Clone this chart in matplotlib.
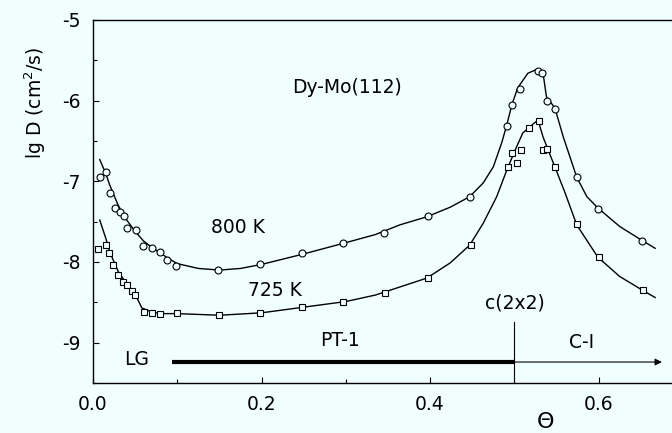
import numpy as np
import matplotlib.pyplot as plt
from matplotlib.ticker import MultipleLocator

plt.rcParams['font.family'] = ['DejaVu Sans']

# measured points, 800 K (circles)
theta_800 = [0.008, 0.015, 0.020, 0.026, 0.032, 0.037, 0.040, 0.051, 0.059, 0.070,
             0.079, 0.088, 0.098, 0.148, 0.198, 0.248, 0.297, 0.345, 0.397, 0.447,
             0.491, 0.497, 0.507, 0.528, 0.533, 0.539, 0.548, 0.574, 0.599, 0.651]
lgD_800 = [-6.95, -6.88, -7.14, -7.33, -7.38, -7.43, -7.58, -7.60, -7.80, -7.83,
           -7.87, -7.97, -8.05, -8.10, -8.02, -7.89, -7.76, -7.64, -7.43, -7.19,
           -6.31, -6.05, -5.86, -5.63, -5.66, -6.00, -6.10, -6.95, -7.34, -7.74]

# measured points, 725 K (squares)
theta_725 = [0.006, 0.015, 0.019, 0.024, 0.030, 0.036, 0.040, 0.046, 0.050, 0.060,
             0.070, 0.079, 0.100, 0.149, 0.198, 0.248, 0.297, 0.346, 0.397, 0.448,
             0.492, 0.503, 0.497, 0.508, 0.517, 0.529, 0.534, 0.539, 0.548, 0.574,
             0.600, 0.652]
lgD_725 = [-7.84, -7.79, -7.89, -8.04, -8.16, -8.25, -8.28, -8.36, -8.41, -8.62,
           -8.63, -8.64, -8.63, -8.66, -8.63, -8.56, -8.49, -8.38, -8.20, -7.79,
           -6.82, -6.77, -6.65, -6.61, -6.34, -6.25, -6.61, -6.60, -6.82, -7.53,
           -7.94, -8.35]

# drawn guide curves
cx_800 = [0.008, 0.015, 0.02, 0.03, 0.04, 0.05, 0.06, 0.07, 0.08, 0.09, 0.1, 0.125,
          0.15, 0.175, 0.2, 0.25, 0.3, 0.335, 0.364, 0.396, 0.424, 0.447, 0.463,
          0.475, 0.485, 0.491, 0.497, 0.504, 0.516, 0.527, 0.534, 0.538, 0.548,
          0.558, 0.574, 0.586, 0.599, 0.625, 0.651, 0.667]
cy_800 = [-6.73, -6.9, -7.05, -7.3, -7.48, -7.62, -7.74, -7.82, -7.89, -7.96, -8.02,
          -8.08, -8.1, -8.08, -8.03, -7.9, -7.76, -7.66, -7.54, -7.44, -7.32, -7.19,
          -7.02, -6.82, -6.52, -6.30, -6.05, -5.84, -5.66, -5.61, -5.66, -5.95,
          -6.09, -6.45, -6.95, -7.19, -7.33, -7.56, -7.73, -7.83]

cx_725 = [0.008, 0.015, 0.02, 0.03, 0.04, 0.05, 0.058, 0.07, 0.08, 0.1, 0.15, 0.2,
          0.25, 0.3, 0.335, 0.364, 0.396, 0.424, 0.447, 0.463, 0.479, 0.491, 0.501,
          0.51, 0.521, 0.528, 0.534, 0.54, 0.548, 0.56, 0.574, 0.599, 0.625, 0.652,
          0.667]
cy_725 = [-7.48, -7.7, -7.88, -8.12, -8.27, -8.4, -8.57, -8.62, -8.64, -8.64, -8.66,
          -8.63, -8.56, -8.49, -8.41, -8.31, -8.20, -8.01, -7.79, -7.52, -7.19,
          -6.86, -6.61, -6.40, -6.30, -6.24, -6.45, -6.61, -6.82, -7.14, -7.54,
          -7.94, -8.18, -8.35, -8.44]

bg = '#f0fefe'

fig = plt.figure(figsize=(6.72, 4.33), dpi=100, facecolor=bg)
ax = fig.add_axes([93 / 672, 1 - 383 / 433, 1 - 93 / 672, (383 - 20) / 433])
ax.set_facecolor(bg)

ax.plot(cx_800, cy_800, color='black', lw=1.0, zorder=2)
ax.plot(cx_725, cy_725, color='black', lw=1.0, zorder=2)
ax.plot(theta_800, lgD_800, 'o', ms=5, mfc=bg, mec='black', mew=0.8, zorder=3)
ax.plot(theta_725, lgD_725, 's', ms=5, mfc=bg, mec='black', mew=0.8, zorder=3)

# phase bar and arrow
ax.plot([0.094, 0.5], [-9.24, -9.24], color='black', lw=3, solid_capstyle='butt')
ax.annotate('', xy=(0.675, -9.24), xytext=(0.5, -9.24),
            arrowprops=dict(arrowstyle='-|>', color='black', lw=0.8,
                            mutation_scale=10, shrinkA=0, shrinkB=0))
ax.plot([0.5, 0.5], [-8.75, -9.5], color='black', lw=0.8)

fs = 13.5
ax.text(0.301, -5.84, 'Dy-Mo(112)', fontsize=fs, ha='center', va='center')
ax.text(0.172, -7.57, '800 K', fontsize=fs, ha='center', va='center')
ax.text(0.216, -8.35, '725 K', fontsize=fs, ha='center', va='center')
ax.text(0.293, -8.97, 'PT-1', fontsize=fs, ha='center', va='center')
ax.text(0.052, -9.21, 'LG', fontsize=fs, ha='center', va='center')
ax.text(0.58, -9.0, 'C-I', fontsize=fs, ha='center', va='center')
ax.text(0.5, -8.51, 'c(2x2)', fontsize=fs, ha='center', va='center')

ax.set_xlim(0, 0.687)
ax.set_ylim(-9.5, -5)
ax.xaxis.set_major_locator(MultipleLocator(0.2))
ax.xaxis.set_minor_locator(MultipleLocator(0.1))
ax.yaxis.set_major_locator(MultipleLocator(1))
ax.yaxis.set_minor_locator(MultipleLocator(0.5))
ax.xaxis.set_major_formatter(plt.FuncFormatter(lambda v, p: '%.1f' % v))
ax.yaxis.set_major_formatter(plt.FuncFormatter(lambda v, p: '%d' % v))
ax.tick_params(which='both', direction='in', labelsize=fs, top=False, right=False)
ax.tick_params(which='major', length=4, width=0.8)
ax.tick_params(which='minor', length=3, width=0.8)
ax.tick_params(axis='y', pad=9)
ax.tick_params(axis='x', pad=9)
ax.spines['right'].set_visible(False)
for s in ['left', 'bottom', 'top']:
    ax.spines[s].set_linewidth(1.0)

fig.text(35 / 672, 1 - 103 / 433, 'lg D (cm$^2$/s)', rotation=90, fontsize=fs,
         ha='center', va='center')
fig.text(545 / 672, 1 - 422 / 433, 'Θ', fontsize=16, ha='center', va='center')

fig.savefig('out.png', dpi=100, facecolor=bg)
